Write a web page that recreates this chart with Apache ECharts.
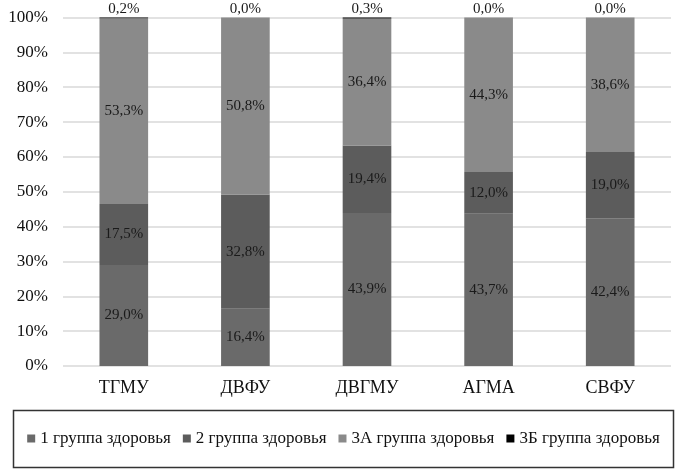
<!DOCTYPE html>
<html>
<head>
<meta charset="utf-8">
<script src="https://cdn.jsdelivr.net/npm/echarts@6/dist/echarts.min.js"></script>
<style>
html,body{margin:0;padding:0;background:#fff;}
#chart{width:687px;height:475px;}
</style>
</head>
<body>
<div id="chart"></div>
<script>
var categories = ['ТГМУ', 'ДВФУ', 'ДВГМУ', 'АГМА', 'СВФУ'];
var seriesNames = ['1 группа здоровья', '2 группа здоровья', '3А группа здоровья', '3Б группа здоровья'];
var group1  = [29.0, 16.4, 43.9, 43.7, 42.4];
var group2  = [17.5, 32.8, 19.4, 12.0, 19.0];
var group3a = [53.3, 50.8, 36.4, 44.3, 38.6];
var group3b = [0.2, 0.0, 0.3, 0.0, 0.0];
var yTicks  = [0, 10, 20, 30, 40, 50, 60, 70, 80, 90, 100];

var colors = ['#6a6a6a', '#5c5c5c', '#8a8a8a', '#000000'];
var font = 'Liberation Serif';

function pct(v){
    return v.toFixed(1).replace('.', ',') + '%';
}

function makeSeries(idx, data, pos){
    return {
        name: seriesNames[idx],
        type: 'bar',
        stack: 'all',
        barWidth: '40%',
        data: data,
        itemStyle: {color: colors[idx]},
        label: {
            show: true,
            position: pos,
            distance: 1,
            color: '#1a1a1a',
            fontFamily: font,
            fontSize: 15,
            formatter: function(p){ return pct(p.value); }
        }
    };
}

var chart = echarts.init(document.getElementById('chart'));
var option = {
    backgroundColor: '#fff',
    animation: false,
    textStyle: {fontFamily: font},
    grid: {left: 63, right: 16, top: 17.5, bottom: 109, containLabel: false},
    xAxis: {
        type: 'category',
        data: categories,
        axisLine: {show: false},
        axisTick: {show: false},
        axisLabel: {color: '#111', fontFamily: font, fontSize: 18, margin: 13}
    },
    yAxis: {
        type: 'value',
        min: yTicks[0],
        max: yTicks[yTicks.length - 1],
        interval: 10,
        axisLine: {show: false},
        axisTick: {show: false},
        splitLine: {lineStyle: {color: '#d9d9d9', width: 1.5}},
        axisLabel: {color: '#111', fontFamily: font, fontSize: 17, margin: 15,
            formatter: '{value}%'}
    },
    legend: {
        data: seriesNames,
        bottom: 23,
        left: 'center',
        icon: 'rect',
        itemWidth: 8,
        itemHeight: 8,
        itemGap: 12,
        itemStyle: {borderWidth: 0},
        textStyle: {color: '#111', fontFamily: font, fontSize: 17}
    },
    graphic: [{
        type: 'rect',
        shape: {x: 13.5, y: 410.5, width: 660, height: 57},
        style: {fill: 'none', stroke: '#333', lineWidth: 1.5},
        silent: true
    }],
    series: [
        makeSeries(0, group1, 'inside'),
        makeSeries(1, group2, 'inside'),
        makeSeries(2, group3a, 'inside'),
        makeSeries(3, group3b, 'top')
    ]
};
chart.setOption(option);
</script>
</body>
</html>
